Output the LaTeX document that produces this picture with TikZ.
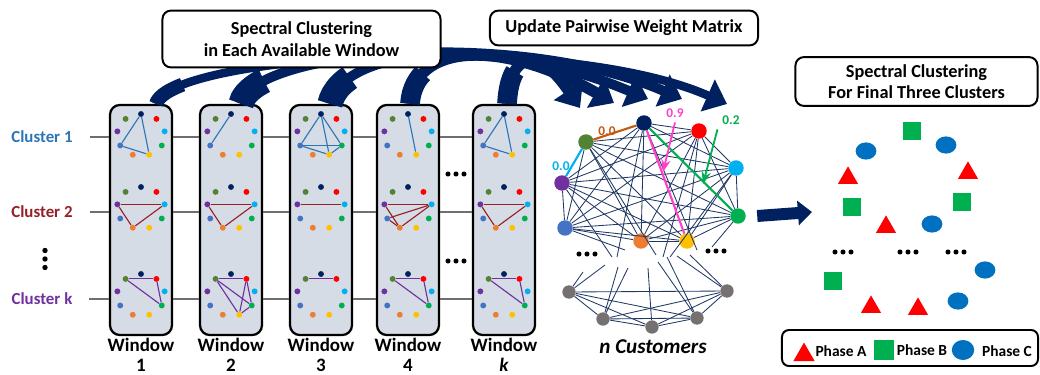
\documentclass[tikz,border=0pt]{standalone}
\usepackage{fontspec}
\setmainfont{Carlito}
\usetikzlibrary{arrows.meta,positioning,shapes.geometric}
\definecolor{navy}{RGB}{0,32,96}
\definecolor{winfill}{RGB}{214,220,229}
\definecolor{cblue}{RGB}{46,117,182}
\definecolor{cred}{RGB}{150,32,40}
\definecolor{cpurple}{RGB}{112,48,160}
\definecolor{dred}{RGB}{255,0,0}
\definecolor{dlblue}{RGB}{0,176,240}
\definecolor{dgreen}{RGB}{0,176,80}
\definecolor{dyellow}{RGB}{255,192,0}
\definecolor{dorange}{RGB}{237,125,49}
\definecolor{dblue}{RGB}{68,114,196}
\definecolor{dolive}{RGB}{84,130,53}
\definecolor{dpink}{RGB}{255,64,200}
\definecolor{dbrown}{RGB}{197,90,17}
\definecolor{dgray}{RGB}{118,113,113}
\definecolor{phblue}{RGB}{0,112,192}
\definecolor{linegray}{RGB}{110,110,110}
\definecolor{netline}{RGB}{32,56,100}

% ring of nine customers inside a window
\newcommand{\dotring}[3]{%
  \foreach \col [count=\i from 0] in {navy,dred,dlblue,dgreen,dyellow,dorange,dblue,cpurple,dolive}
    \node[wdot,fill=\col] (#1-\i) at ({#2+24*cos(90-40*\i)},{#3-21*sin(90-40*\i)}) {};
}
% three dots
\newcommand{\threedots}[2]{%
  \foreach \d in {-8,0,8} \fill (#1+\d,#2) circle (1.8pt);
}
% thick curved arrow, wider at its base
\newcommand{\bandarrow}[6]{%
  \draw[bigarrow, line width=#1] #2 .. controls #3 and #4 .. #5;
  \draw[navy, line width=#6, dash pattern=on 24pt off 2000pt] #2 .. controls #3 and #4 .. #5;
}

\begin{document}
\begin{tikzpicture}[x=0.025cm, y=-0.025cm, >=Stealth,
  window/.style={draw, line width=1.6pt, rounded corners=7pt, fill=winfill,
    minimum width=1.55cm, minimum height=5.75cm, inner sep=0pt},
  wdot/.style={circle, inner sep=0pt, minimum size=4.2pt},
  winlab/.style={font=\fontsize{13.5}{14}\selectfont\bfseries, inner sep=0pt},
  clab/.style={font=\fontsize{12}{14}\selectfont\bfseries},
  rowline/.style={linegray, line width=0.8pt},
  c1edge/.style={cblue, line width=0.8pt},
  c2edge/.style={cred, line width=0.8pt},
  ckedge/.style={cpurple, line width=0.8pt},
  titlebox/.style={draw, line width=1.4pt, rounded corners=6pt, fill=white, align=center,
    inner sep=0pt, font=\fontsize{13}{16}\selectfont\bfseries},
  bigarrow/.style={navy, -{Triangle[width=24pt,length=15pt]}},
  cust/.style={circle, inner sep=0pt, minimum size=11pt},
  netedge/.style={netline, line width=0.6pt},
  wlab/.style={font=\fontsize{9.5}{11}\selectfont\bfseries},
  phA/.style={regular polygon, regular polygon sides=3, fill=dred, inner sep=0pt, minimum size=0.58cm},
  phB/.style={rectangle, fill=dgreen, inner sep=0pt, minimum size=0.45cm},
  phC/.style={ellipse, fill=phblue, inner sep=0pt, minimum width=0.52cm, minimum height=0.43cm},
  phlab/.style={font=\fontsize{11}{13}\selectfont\bfseries}]
\useasboundingbox (0,0) rectangle (1040,375);

% cluster labels
\node[clab,cblue] (cl1) at (42,137) {Cluster 1};
\node[clab,cred] (cl2) at (42,212) {Cluster 2};
\node[clab,cpurple] (clk) at (42,299) {Cluster k};
\foreach \y in {-8.5,0,8.5} \fill (45,259+\y) circle (1.9pt);

% windows
\foreach \n/\x/\lab in {1/141/1, 2/231/2, 3/321/3, 4/408/4, k/504/\textit{k}}
{
  \node[window] (win\n) at (\x,220) {};
  \node[winlab] (wl\n) at (\x,345) {Window};
  \node[winlab] (wn\n) at (\x,365) {\lab};
}

% rows through the windows
\foreach \r in {cl1,cl2,clk}
{
  \draw[rowline] ([xshift=0.3cm]\r.east) -- (win1.west |- \r);
  \foreach \p/\q in {1/2,2/3,3/4,4/k}
    \draw[rowline] (win\p.east |- \r) -- (win\q.west |- \r);
}
\threedots{456}{174}
\threedots{456}{261}

% customers in each window
\foreach \n/\x in {1/141, 2/231, 3/321, 4/408, k/504}
{
  \dotring{w\n-1}{\x}{135}
  \dotring{w\n-2}{\x}{208}
  \dotring{w\n-3}{\x}{295}
}
% Cluster 1
\foreach \w/\a/\b in {1/0/6, 1/6/4, 1/4/0, 2/0/6, 3/0/6, 3/0/4, 3/0/3, 3/6/3, 3/6/4, 3/4/3,
                      4/0/4, k/0/6, k/6/4, k/4/0}
  \draw[c1edge] (w\w-1-\a) -- (w\w-1-\b);
% Cluster 2
\foreach \w/\a/\b in {1/7/2, 1/2/5, 1/5/7, 2/7/2, 2/2/5, 2/5/7, 3/7/2,
                      4/7/2, 4/2/5, 4/5/7, 4/6/2, 4/6/5, k/7/2, k/2/5, k/5/7}
  \draw[c2edge] (w\w-2-\a) -- (w\w-2-\b);
% Cluster k
\foreach \w/\a/\b in {1/8/1, 1/1/3, 1/3/8, 2/8/1, 2/8/3, 2/8/4, 2/1/4, 2/1/3, 2/3/4, 3/8/1,
                      4/8/1, 4/1/3, 4/3/8, k/8/1, k/1/3, k/3/8}
  \draw[ckedge] (w\w-3-\a) -- (w\w-3-\b);

% arrows from the windows to the weight matrix
\coordinate (tip1) at (727,104);
\coordinate (tip2) at (682,99);
\coordinate (tip3) at (648,99);
\coordinate (tip4) at (614,103);
\coordinate (tipk) at (580,108);
\bandarrow{6pt}{([xshift=0.375cm]win1.north)}{+(15,-50)}{(560,30)}{(tip1)}{10pt}
\bandarrow{7pt}{([xshift=0.25cm]win2.north)}{+(12,-55)}{(520,28)}{(tip2)}{18pt}
\bandarrow{7pt}{([xshift=0.225cm]win3.north)}{+(12,-55)}{(490,32)}{(tip3)}{18pt}
\bandarrow{8pt}{([xshift=0.05cm]win4.north)}{+(4,-60)}{(500,38)}{(tip4)}{14pt}
\bandarrow{8pt}{([xshift=0.075cm]wink.north)}{+(3,-55)}{(540,48)}{(tipk)}{14pt}

% titles
\node[titlebox, minimum width=6.95cm, minimum height=1.42cm] (sc) at (301.5,39)
  {Spectral Clustering\\in Each Available Window};
\node[titlebox, minimum width=6.7cm, minimum height=0.87cm] (upd) at (624,28)
  {Update Pairwise Weight Matrix};
\node[titlebox, minimum width=6.05cm, minimum height=1.22cm, font=\fontsize{13}{15}\selectfont\bfseries]
  (fin) at (916.5,81.5) {Spectral Clustering\\For Final Three Clusters};

% customers network
\foreach \i/\col/\x/\y in {0/navy/644/123, 1/dred/699/131, 2/dlblue/736/168, 3/dgreen/738/216,
                           4/dyellow/687/241, 5/dorange/641/241, 6/dblue/565/228,
                           7/cpurple/562/183, 8/dolive/586/142}
  \node[cust,fill=\col] (cn\i) at (\x,\y) {};
\foreach \i/\x/\y in {1/569/292, 2/603/319, 3/652/327, 4/697/318, 5/727/291}
  \node[cust,fill=dgray,minimum size=9.5pt] (g\i) at (\x,\y) {};
\foreach \i in {0,...,7}
{
  \pgfmathtruncatemacro\js{\i+1}
  \foreach \j in {\js,...,8}
    \draw[netedge] (cn\i) -- (cn\j);
}
\foreach \i in {1,...,4}
{
  \pgfmathtruncatemacro\js{\i+1}
  \foreach \j in {\js,...,5}
    \draw[netedge] (g\i) -- (g\j);
}
\foreach \s/\x/\y in {cn7/612/257, cn0/617/257, cn6/625/250, cn8/656/255, cn1/663/257,
                      cn2/670/257, cn0/697/250, cn3/712/247,
                      g1/583/272, g1/605/265, g2/618/267, g2/628/268, g3/648/268,
                      g4/658/262, g4/667/257, g5/677/256, g5/690/255}
  \draw[netedge] (\s) -- (\x,\y);
\draw[dbrown, line width=1.5pt] (cn8) -- (cn0);
\draw[dlblue, line width=1.5pt] (cn7) -- (cn8);
\draw[dpink, line width=1.5pt] (cn0) -- (cn4);
\draw[dgreen, line width=1.5pt] (cn0) -- (cn3);
\node[wlab,dbrown] (w00a) at (607,131) {0.0};
\node[wlab,dlblue] (w00b) at (561,166) {0.0};
\node[wlab,dpink] (w09) at (675,113) {0.9};
\node[wlab,dgreen] (w02) at (731,120) {0.2};
\coordinate (pinkend) at (663,172);
\coordinate (greenend) at (703,184);
\draw[->, dpink, line width=1.3pt] (w09.south) -- (pinkend);
\draw[->, dgreen, line width=1.3pt] (w02.south west) -- (greenend);
\threedots{587}{254}
\threedots{716}{251}
\node[font=\fontsize{15}{17}\selectfont\bfseries\itshape] (ncust) at (653,347) {n Customers};

% to the final clusters
\coordinate (fatend) at (812,212);
\draw[navy, line width=8.5pt, -{Triangle[width=17pt,length=10pt]}] ([xshift=0.28cm]cn3.east) -- (fatend);

% final three clusters
\foreach \x/\y [count=\k] in {848/178, 968/173, 886/227, 871/307, 918/309}
  \node[phA] (pa\k) at (\x,\y) {};
\foreach \x/\y [count=\k] in {912/131, 852/207, 962/202, 833/281}
  \node[phB] (pb\k) at (\x,\y) {};
\foreach \x/\y [count=\k] in {866/151, 946/145, 932/224, 985/270, 958/301}
  \node[phC] (pc\k) at (\x,\y) {};
\threedots{843}{252}
\threedots{908}{252}
\threedots{956}{252}

% legend
\node[draw, line width=1.4pt, rounded corners=5pt, minimum width=6.4cm, minimum height=0.9cm]
  (leg) at (910,348) {};
\node[phA, minimum size=0.62cm] (lga) at (804,355) {};
\node[phlab] (lta) at (841,351) {Phase A};
\node[phB, minimum size=0.5cm] (lgb) at (884,350) {};
\node[phlab] (ltb) at (922,350) {Phase B};
\node[phC, minimum width=0.56cm, minimum height=0.5cm] (lgc) at (963,350) {};
\node[phlab] (ltc) at (1007,351) {Phase C};
\end{tikzpicture}
\end{document}
